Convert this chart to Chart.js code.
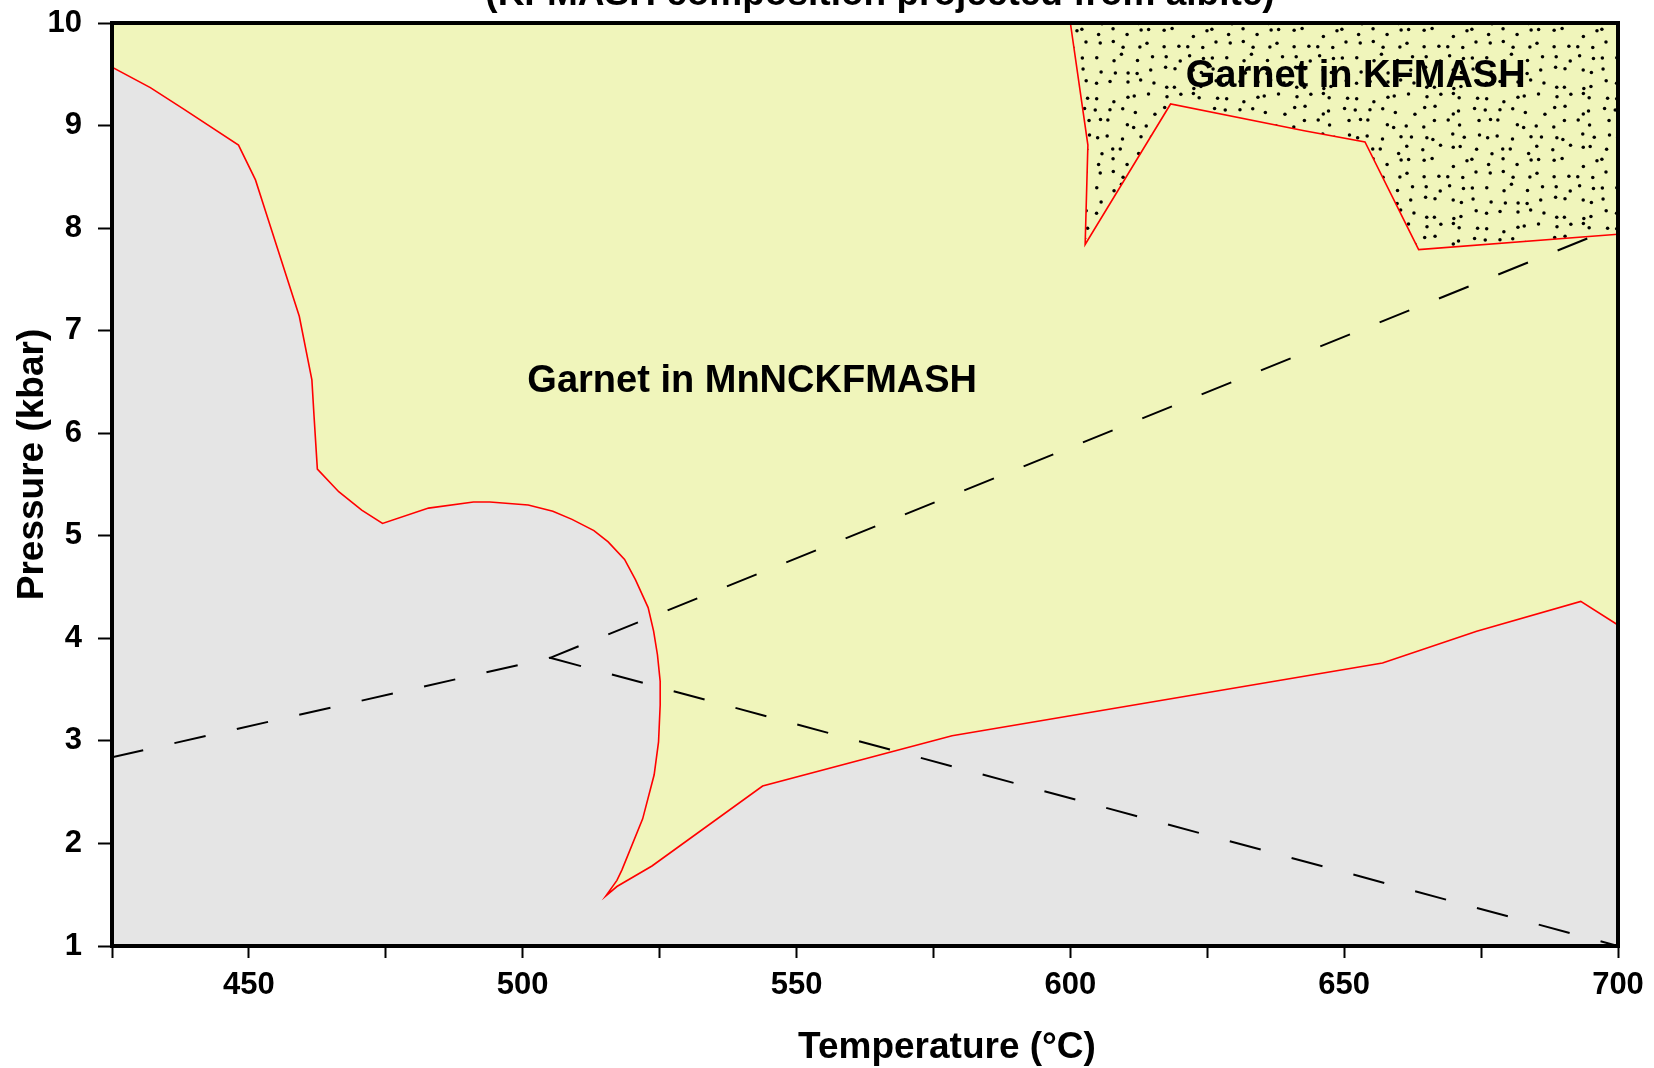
<!DOCTYPE html>
<html>
<head>
<meta charset="utf-8">
<script src="https://cdn.jsdelivr.net/npm/chart.js@4.4.1/dist/chart.umd.min.js"></script>
<style>
  html, body { margin: 0; padding: 0; background: #fff; }
  #chartCanvas { display: block; }
</style>
</head>
<body>
<canvas id="chartCanvas" width="1654" height="1068"></canvas>
<script>
// --- values: temperature (°C) and pressure (kbar) ---

// red boundary of the "garnet in MnNCKFMASH" field (left curve, then the low-P limb)
const mnBoundaryT = [425, 432, 438.1, 448.1, 451.2, 453.3, 459.2, 461.5, 461.9, 462.5,
  466.4, 470.6, 474.4, 482.8, 491.0, 494.0, 501.0, 505.5, 509.0, 513.0,
  515.6, 518.6, 520.6, 522.9, 523.9, 524.6, 525.1, 525.1, 524.8, 524.0,
  521.9, 518.1, 517.2, 515.2, 517.2, 523.6, 543.8, 578.4, 657.0, 674.2,
  693.2, 700];
const mnBoundaryP = [9.57, 9.37, 9.16, 8.81, 8.47, 8.12, 7.14, 6.52, 6.16, 5.65,
  5.43, 5.25, 5.12, 5.27, 5.33, 5.33, 5.30, 5.24, 5.16, 5.05,
  4.94, 4.77, 4.57, 4.30, 4.07, 3.84, 3.58, 3.35, 2.99, 2.67,
  2.24, 1.74, 1.64, 1.49, 1.58, 1.78, 2.56, 3.05, 3.76, 4.07,
  4.36, 4.13];

// red boundary of the stippled "garnet in KFMASH" field
const kfBoundaryT = [600, 603.2, 602.7, 618.3, 642.7, 653.8, 663.6, 700];
const kfBoundaryP = [10, 8.81, 7.84, 9.21, 8.95, 8.84, 7.79, 7.94];

// dashed lines
const dashAT = [425, 505, 700];
const dashAP = [2.84, 3.81, 8.02];
const dashBT = [505, 700];
const dashBP = [3.81, 1.0];

// axes
const xTickValues = [425, 450, 475, 500, 525, 550, 575, 600, 625, 650, 675, 700];
const xLabelValues = [450, 500, 550, 600, 650, 700];
const yTickValues = [1, 2, 3, 4, 5, 6, 7, 8, 9, 10];

const titleText = "(KFMASH composition projected from albite)";
const xTitle = "Temperature (°C)";
const yTitle = "Pressure (kbar)";
const fieldLabels = [
  { text: "Garnet in MnNCKFMASH", t: 541.9, p: 6.40 },
  { text: "Garnet in KFMASH", t: 652.1, p: 9.38 }
];

// --- helpers ---
const toPoints = (ts, ps) => ts.map((t, i) => ({ x: t, y: ps[i] }));
const FONT = '"Liberation Sans", Arial, Helvetica, sans-serif';
const YELLOW = "#f0f5bb";
const GREY = "#e5e5e5";

// stipple texture for the KFMASH field
function makeStipple() {
  const c = document.createElement("canvas");
  c.width = 130; c.height = 130;
  const g = c.getContext("2d");
  g.fillStyle = "#000";
  let s = 12345;
  const next = () => (s = (s * 16807) % 2147483647) / 2147483647;
  for (let i = 0; i < 10; i++) {
    for (let j = 0; j < 10; j++) {
      const x = i * 13 + 2 + next() * 9;
      const y = j * 13 + 2 + next() * 9;
      g.beginPath();
      g.arc(x, y, 1.75, 0, Math.PI * 2);
      g.fill();
    }
  }
  return g.createPattern(c, "repeat");
}

// grey plot background + black frame
const framePlugin = {
  id: "frame",
  beforeDatasetsDraw(chart) {
    const { ctx, chartArea: a } = chart;
    ctx.save();
    ctx.fillStyle = GREY;
    ctx.fillRect(a.left, a.top, a.right - a.left, a.bottom - a.top);
    ctx.restore();
  },
  afterDatasetsDraw(chart) {
    const { ctx, chartArea: a } = chart;
    ctx.save();
    ctx.strokeStyle = "#000";
    ctx.lineWidth = 4;
    ctx.strokeRect(a.left, a.top, a.right - a.left, a.bottom - a.top);
    ctx.restore();
  }
};

// title, axis titles and field labels
const textPlugin = {
  id: "texts",
  afterDraw(chart) {
    const { ctx, chartArea: a, scales } = chart;
    ctx.save();
    ctx.fillStyle = "#000";
    ctx.font = "bold 37px " + FONT;
    ctx.textAlign = "center";
    ctx.textBaseline = "alphabetic";

    ctx.fillText(titleText, a.left + 768, 5);
    ctx.fillText(xTitle, (a.left + a.right) / 2 + 82, 1058);

    ctx.save();
    ctx.translate(43, (a.top + a.bottom) / 2 - 20);
    ctx.rotate(-Math.PI / 2);
    ctx.fillText(yTitle, 0, 0);
    ctx.restore();

    ctx.font = "bold 38px " + FONT;
    fieldLabels.forEach(l => {
      ctx.fillText(l.text, scales.x.getPixelForValue(l.t), scales.y.getPixelForValue(l.p));
    });
    ctx.restore();
  }
};

const canvas = document.getElementById("chartCanvas");

new Chart(canvas, {
  type: "line",
  data: {
    datasets: [
      {
        label: "dashed A",
        data: toPoints(dashAT, dashAP),
        borderColor: "#000",
        borderWidth: 2,
        borderDash: [32, 32],
        pointRadius: 0,
        fill: false,
        order: 1
      },
      {
        label: "dashed B",
        data: toPoints(dashBT, dashBP),
        borderColor: "#000",
        borderWidth: 2,
        borderDash: [32, 32],
        pointRadius: 0,
        fill: false,
        order: 1
      },
      {
        label: "Garnet in KFMASH",
        data: toPoints(kfBoundaryT, kfBoundaryP),
        borderColor: "#ff0000",
        borderWidth: 1.6,
        backgroundColor: makeStipple(),
        pointRadius: 0,
        fill: "end",
        order: 2
      },
      {
        label: "Garnet in MnNCKFMASH",
        data: toPoints(mnBoundaryT, mnBoundaryP),
        borderColor: "#ff0000",
        borderWidth: 1.6,
        backgroundColor: YELLOW,
        pointRadius: 0,
        fill: "end",
        order: 3
      }
    ]
  },
  options: {
    responsive: false,
    animation: false,
    devicePixelRatio: 1,
    events: [],
    layout: { padding: { left: 0, top: 23, right: 36, bottom: 0 } },
    plugins: {
      legend: { display: false },
      tooltip: { enabled: false },
      title: { display: false }
    },
    scales: {
      x: {
        type: "linear",
        min: 425,
        max: 700,
        afterFit: s => { s.height = 122; s.paddingLeft = 0; s.paddingRight = 0; },
        afterBuildTicks: s => { s.ticks = xTickValues.map(v => ({ value: v })); },
        border: { display: false },
        grid: { drawOnChartArea: false, drawTicks: true, tickLength: 12, tickWidth: 2, tickColor: "#000" },
        ticks: {
          color: "#000",
          padding: 9,
          maxRotation: 0,
          autoSkip: false,
          font: { family: FONT, weight: "bold", size: 31 },
          callback: v => (xLabelValues.includes(v) ? String(v) : "")
        }
      },
      y: {
        type: "linear",
        min: 1,
        max: 10,
        afterFit: s => { s.width = 112; s.paddingTop = 0; s.paddingBottom = 0; },
        afterBuildTicks: s => { s.ticks = yTickValues.map(v => ({ value: v })); },
        border: { display: false },
        grid: { drawOnChartArea: false, drawTicks: true, tickLength: 14, tickWidth: 2, tickColor: "#000" },
        ticks: {
          color: "#000",
          padding: 16,
          autoSkip: false,
          font: { family: FONT, weight: "bold", size: 31 },
          callback: v => String(v)
        }
      }
    }
  },
  plugins: [framePlugin, textPlugin]
});
</script>
</body>
</html>
